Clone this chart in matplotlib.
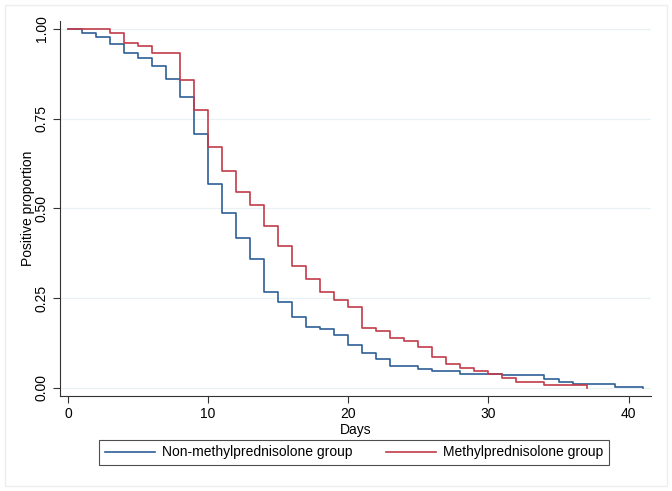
import matplotlib
matplotlib.use("Agg")
import matplotlib.pyplot as plt
from matplotlib.patches import Rectangle

plt.rcParams['font.family'] = ['Liberation Sans', 'DejaVu Sans']

# Kaplan-Meier style step data
non_methyl_days = [0, 1, 2, 3, 4, 5, 6, 7, 8, 9, 10, 11, 12, 13, 14, 15, 16, 17, 18, 19,
                   20, 21, 22, 23, 25, 26, 28, 31, 34, 35, 36, 39, 41]
non_methyl_prop = [1.0, 0.990, 0.977, 0.958, 0.932, 0.918, 0.897, 0.860, 0.811, 0.707,
                   0.567, 0.488, 0.417, 0.358, 0.268, 0.240, 0.197, 0.171, 0.165, 0.148,
                   0.120, 0.098, 0.081, 0.062, 0.053, 0.048, 0.040, 0.036, 0.024, 0.018,
                   0.010, 0.004, 0.0]

methyl_days = [0, 3, 4, 5, 6, 8, 9, 10, 11, 12, 13, 14, 15, 16, 17, 18, 19, 20, 21, 22,
               23, 24, 25, 26, 27, 28, 29, 30, 31, 32, 34, 37]
methyl_prop = [1.0, 0.990, 0.962, 0.953, 0.932, 0.858, 0.774, 0.670, 0.603, 0.547,
               0.510, 0.452, 0.396, 0.340, 0.303, 0.266, 0.245, 0.226, 0.168, 0.160,
               0.140, 0.131, 0.113, 0.086, 0.066, 0.057, 0.047, 0.039, 0.029, 0.018,
               0.008, 0.0]

series_labels = ["Non-methylprednisolone group", "Methylprednisolone group"]
x_ticks = [0, 10, 20, 30, 40]
y_ticks = [0.0, 0.25, 0.50, 0.75, 1.0]
y_tick_labels = ["0.00", "0.25", "0.50", "0.75", "1.00"]

W, H = 672, 491
fig = plt.figure(figsize=(W / 100, H / 100), dpi=100)
fig.patch.set_facecolor("white")

# faint outer frame
fig.add_artist(Rectangle((5 / W, 5 / H), 662 / W, 481 / H, transform=fig.transFigure,
                         fill=False, edgecolor="#eeeeee", linewidth=1.0))

ax = fig.add_axes([60 / W, (H - 396) / H, (651 - 60) / W, (396 - 20.7) / H])

blue = "#2f5f96"
red = "#c23b4a"

l1, = ax.step(non_methyl_days, non_methyl_prop, where="post", color=blue, linewidth=1.2,
              label=series_labels[0])
l2, = ax.step(methyl_days, methyl_prop, where="post", color=red, linewidth=1.2,
              label=series_labels[1])

ax.set_xlim(-0.57, 41.6)
ax.set_ylim(-0.0223, 1.023)
ax.set_xticks(x_ticks)
ax.set_yticks(y_ticks)
ax.set_yticklabels(y_tick_labels, rotation=90, va="center")
ax.tick_params(axis="both", direction="out", length=5, width=0.8, color="#333333",
               labelsize=10, pad=3)

for y in y_ticks:
    ax.axhline(y, color="#e8f2f4", linewidth=0.9, zorder=0)

for side in ["top", "right"]:
    ax.spines[side].set_visible(False)
for side in ["left", "bottom"]:
    ax.spines[side].set_color("#333333")
    ax.spines[side].set_linewidth(0.8)

ax.set_xlabel("Days", fontsize=10, labelpad=1.5)
ax.set_ylabel("Positive proportion", fontsize=10, labelpad=0)

leg = fig.legend(handles=[l1, l2], labels=series_labels, ncol=2, mode="expand",
                 bbox_to_anchor=(99 / W, (H - 465) / H, 510 / W, 25 / H),
                 loc="lower left", fancybox=False, frameon=True, fontsize=10,
                 handlelength=3.6, handletextpad=0.55, borderaxespad=0, borderpad=0.4)
leg.get_frame().set_edgecolor("#222222")
leg.get_frame().set_linewidth(0.8)

fig.savefig("out.png", dpi=100)
